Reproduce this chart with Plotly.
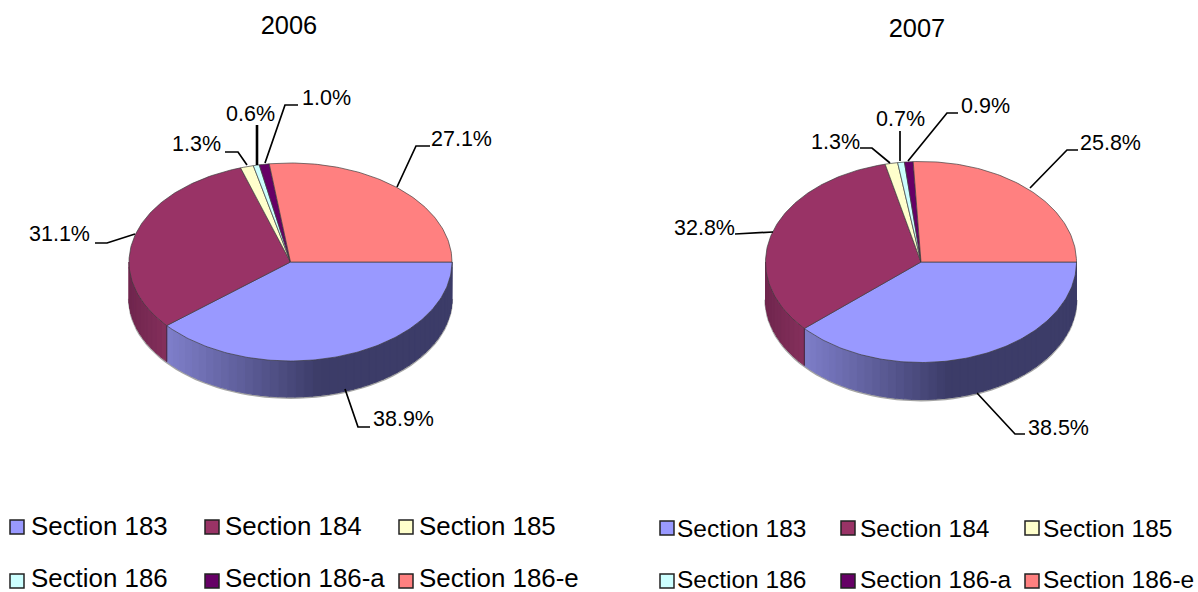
import math
import plotly.graph_objects as go

# ---- data ----
sections = ["Section 183", "Section 184", "Section 185", "Section 186", "Section 186-a", "Section 186-e"]
values_2006 = [38.9, 31.1, 1.3, 0.6, 1.0, 27.1]
values_2007 = [38.5, 32.8, 1.3, 0.7, 0.9, 25.8]
years = ["2006", "2007"]

# ---- styles ----
colors = ["#9999FF", "#993366", "#FFFFCC", "#CCFFFF", "#660066", "#FF8080"]
FONT = "Liberation Sans"
TEXT_DY = 2

# geometry and label layout, in page pixels
pies = [
    dict(title=years[0], values=values_2006, cx=290.5, cy=262, rx=161.5, ry=99, depth=36, title_xy=(289, 26),
         leaders=[
             [(345, 389), (358, 427), (370, 427)],
             [(135, 234), (107, 243), (95, 243)],
             [(247, 165), (238, 152), (225, 152)],
             [(257, 165), (257, 125)],
             [(265, 163), (285, 105), (298, 105)],
             [(397, 187), (416, 146), (430, 146)],
         ],
         labels=[(373, 419), (29, 234), (172, 144), (226, 114), (302, 98), (431, 139)],
         legend_marker_x=[17, 212, 406], legend_text_x=[31, 225, 419], legend_y=[527, 581],
         legend_text_y=[529, 581], legend_size=25.9),
    dict(title=years[1], values=values_2007, cx=921, cy=262, rx=155.5, ry=100.5, depth=37, title_xy=(917, 29),
         leaders=[
             [(977, 393), (1015, 434), (1025, 434)],
             [(773, 232), (745, 234), (735, 234)],
             [(890, 163), (872, 148), (860, 148)],
             [(900, 161), (900, 131)],
             [(908, 161), (947, 113), (958, 113)],
             [(1030, 188), (1067, 150), (1078, 150)],
         ],
         labels=[(1028, 428), (674, 228), (811, 142), (876, 119), (961, 106), (1080, 143)],
         legend_marker_x=[667, 848, 1032], legend_text_x=[677, 860, 1043], legend_y=[528, 581],
         legend_text_y=[531, 582], legend_size=24.5),
]


def mix(c1, c2, t):
    t = max(0.0, min(1.0, t))
    return "rgb(%d,%d,%d)" % tuple(round(a + (b - a) * t) for a, b in zip(c1, c2))


def ellipse(p, a_deg):
    a = math.radians(a_deg)
    return p["cx"] + p["rx"] * math.cos(a), p["cy"] + p["ry"] * math.sin(a)


def arc(p, a0, a1, step=1.0):
    n = max(2, int(abs(a1 - a0) / step) + 1)
    return [ellipse(p, a0 + (a1 - a0) * i / (n - 1)) for i in range(n)]


fig = go.Figure()


def poly(pts, fill, line=None, width=1.0, name=None):
    fig.add_trace(go.Scatter(
        x=[q[0] for q in pts] + [pts[0][0]], y=[q[1] for q in pts] + [pts[0][1]],
        mode="lines", fill="toself", fillcolor=fill,
        line=dict(color=line or fill, width=width),
        hoverinfo="skip" if name is None else "text", text=name, showlegend=False))


for p in pies:
    total = sum(p["values"])
    edges = [0.0]
    for v in p["values"]:
        edges.append(edges[-1] + v / total * 360.0)

    # soft grey halo under the rim
    halo = arc(p, 0, 180, 3)
    fig.add_trace(go.Scatter(x=[q[0] for q in halo], y=[q[1] + p["depth"] + 0.8 for q in halo], mode="lines",
                             line=dict(color="rgba(90,90,90,0.55)", width=2.2), hoverinfo="skip", showlegend=False))

    # front rim, split in gradient strips (only the slices facing the viewer)
    for i, colour in enumerate(colors):
        a0, a1 = edges[i], min(edges[i + 1], 180.0)
        if a0 >= 180.0:
            continue
        n = max(1, int((a1 - a0) / 3))
        for k in range(n):
            s0 = a0 + (a1 - a0) * k / n
            s1 = a0 + (a1 - a0) * (k + 1) / n + 0.25
            top = arc(p, s0, min(s1, a1), 1)
            bottom = [(x, y + p["depth"]) for x, y in reversed(top)]
            xm = ellipse(p, (s0 + s1) / 2)[0]
            u = (xm - p["cx"]) / p["rx"]       # -1 left .. +1 right
            if i == 0:
                t = (u + 0.78) / 0.95
                fill = mix((128, 128, 204), (60, 60, 104), t)
            else:
                t = (u + 1.0) / 0.25
                fill = mix((112, 38, 78), (134, 48, 92), t)
            poly(top + bottom, fill)

    # vertical edge between the two rim colours
    bx, by = ellipse(p, edges[1])
    fig.add_trace(go.Scatter(x=[bx, bx], y=[by, by + p["depth"]], mode="lines",
                             line=dict(color="rgba(40,40,60,0.7)", width=1), hoverinfo="skip", showlegend=False))

    # top face slices
    for i, colour in enumerate(colors):
        pts = [(p["cx"], p["cy"])] + arc(p, edges[i], edges[i + 1])
        poly(pts, colour, line="rgba(60,60,60,0.85)", width=0.8,
             name=f'{sections[i]}: {p["values"][i]:.1f}%')

    # leader lines
    for i, pts in enumerate(p["leaders"]):
        fig.add_trace(go.Scatter(x=[q[0] for q in pts], y=[q[1] for q in pts], mode="lines",
                                 line=dict(color="black", width=2.6 if (len(pts) == 2 and p is pies[0]) else 1.7),
                                 hoverinfo="skip", showlegend=False))

    # value labels
    fig.add_trace(go.Scatter(x=[q[0] for q in p["labels"]], y=[q[1] + TEXT_DY for q in p["labels"]], mode="text",
                             text=[f"{v:.1f}%" for v in p["values"]], textposition="middle right",
                             textfont=dict(family=FONT, size=21.5, color="black"),
                             hoverinfo="skip", showlegend=False))

    # chart title
    fig.add_trace(go.Scatter(x=[p["title_xy"][0]], y=[p["title_xy"][1] + TEXT_DY], mode="text", text=[p["title"]],
                             textposition="middle center", textfont=dict(family=FONT, size=25.4, color="black"),
                             hoverinfo="skip", showlegend=False))

    # legend
    for i, name in enumerate(sections):
        col, row = i % 3, i // 3
        fig.add_trace(go.Scatter(x=[p["legend_marker_x"][col]], y=[p["legend_y"][row]], mode="markers",
                                 marker=dict(symbol="square", size=14, color=colors[i],
                                             line=dict(color="#222222", width=1.5)),
                                 hoverinfo="skip", showlegend=False))
        fig.add_trace(go.Scatter(x=[p["legend_text_x"][col]], y=[p["legend_text_y"][row]], mode="text", text=[name],
                                 textposition="middle right",
                                 textfont=dict(family=FONT, size=p["legend_size"], color="black"),
                                 hoverinfo="skip", showlegend=False))

fig.update_layout(
    width=1198, height=592, margin=dict(l=0, r=0, t=0, b=0),
    paper_bgcolor="white", plot_bgcolor="white", showlegend=False,
    xaxis=dict(range=[0, 1198], visible=False, fixedrange=True),
    yaxis=dict(range=[592, 0], visible=False, fixedrange=True),
)
fig.write_html("out.html", config=dict(displayModeBar=False),
               post_script="document.body.style.margin='0';document.body.style.overflow='hidden';")
